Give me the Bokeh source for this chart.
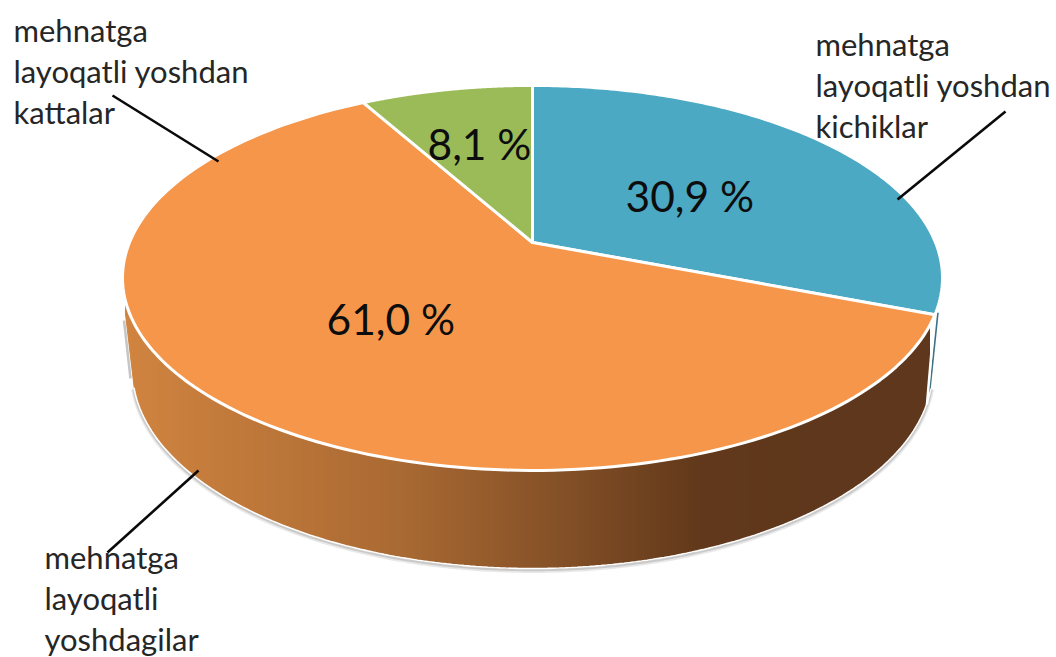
import numpy as np
from bokeh.plotting import figure
from bokeh.core.properties import value
from bokeh.embed import file_html
from bokeh.resources import INLINE

# ---- data ----
shares = [30.9, 61.0, 8.1]
share_labels = ["30,9 %", "61,0 %", "8,1 %"]
slice_colors = ["#4BA9C4", "#F5964A", "#9BBB59"]
names = [
    ["mehnatga", "layoqatli yoshdan", "kichiklar"],
    ["mehnatga", "layoqatli", "yoshdagilar"],
    ["mehnatga", "layoqatli yoshdan", "kattalar"],
]

# ---- geometry of the tilted disc (page pixels) ----
CX, CY = 532.0, 242.0      # apex of the slices
A, B, K = 403.0, 186.0, 0.184  # projective circle
RIM_CX, RIM_CY, RIM_RX, RIM_RY = 532.0, 370.0, 400.0, 198.0  # lower rim of the wall
TOP_CY, TOP_RX, TOP_RY = 277.5, 410.0, 192.5


def disc(t):
    u, v = np.sin(t), np.cos(t)
    w = 1 + K * v
    return CX + A * u / w, CY - B * v / w


def top(x):
    return TOP_CY + TOP_RY * np.sqrt(max(0, 1 - ((x - RIM_CX) / TOP_RX) ** 2))


def bot(x):
    if x < 132:
        return 373 - (132 - x) * 8.5
    return RIM_CY + RIM_RY * np.sqrt(max(0, 1 - ((x - RIM_CX) / RIM_RX) ** 2))


p = figure(width=1056, height=657, x_range=(0, 1056), y_range=(657, 0),
           output_backend="svg", toolbar_location=None, min_border=0,
           background_fill_color="white", border_fill_color="white")
p.axis.visible = False
p.grid.visible = False
p.outline_line_color = None

# ---- wall: vertical strips with a horizontal colour gradient ----
stops_x = [130, 400, 550, 700, 800, 934]
stops_rgb = np.array([(208, 132, 64), (170, 106, 51), (135, 82, 40),
                      (98, 57, 27), (95, 55, 28), (96, 56, 29)], float)
edges = np.r_[125.0, np.arange(128, 932, 3.0)]
xs, ys, cols = [], [], []
for x0, x1 in zip(edges[:-1], edges[1:]):
    xs.append([x0, x1, x1, x0])
    ys.append([top(x0), top(x1), bot(x1), bot(x0)])
    m = (x0 + x1) / 2
    c = [int(np.interp(m, stops_x, stops_rgb[:, i])) for i in range(3)]
    cols.append("#%02x%02x%02x" % tuple(c))

# soft shadow + white line round the wall's lower rim
tt = np.radians(np.linspace(95, 265, 200))
rx = RIM_CX + RIM_RX * np.sin(tt)
ry = RIM_CY - RIM_RY * np.cos(tt)
p.line(rx, ry + 1.5, line_color="#808080", line_alpha=0.18, line_width=6)
p.line(rx, ry + 1, line_color="#808080", line_alpha=0.3, line_width=3.5)
p.line([123.5, 130], [320, 378], line_color="#707070", line_alpha=0.4, line_width=2.5)
p.patches(xs, ys, fill_color=cols, line_color=cols, line_width=1)
p.line(rx, ry, line_color="white", line_width=1.6)

# thin sliver of the blue slice's wall at the far right
end_blue = np.radians(shares[0] / 100 * 360)
ex, ey = disc(end_blue)
p.line([ex + 3, ex - 5], [ey - 2, ey + 74], line_color="#3d7286", line_width=1.6)
p.line([ex - 0.5, ex - 8], [ey + 2, ey + 90], line_color="white", line_width=2.5)

# ---- top faces of the slices ----
start = 0.0
tx, ty = [], []
for s in shares:
    a0, a1 = start, start + s / 100 * 2 * np.pi
    t = np.linspace(a0, a1, 160)
    x, y = disc(t)
    tx.append(np.r_[CX, x])
    ty.append(np.r_[CY, y])
    start = a1
p.patches(tx, ty, fill_color=slice_colors, line_color="white", line_width=3,
          line_join="round")

# ---- leader lines ----
p.segment(x0=[1005, 198, 112], y0=[111, 470, 95], x1=[897, 107, 218], y1=[199, 552, 161],
          line_color="#0a0a0a", line_width=2.6)

# ---- percentage labels ----
FONT = value("Lato")
p.text(x=[625, 326, 427], y=[195, 318, 143], text=share_labels,
       text_font=FONT, text_font_size="42.5px", text_color="#0d0d0d",
       text_align="left", text_baseline="alphabetic")

# ---- category labels ----
anchors = [(815, 43), (44, 556), (13, 29)]
lx, ly, lt = [], [], []
for (ax, ay), lines in zip(anchors, names):
    for i, line in enumerate(lines):
        lx.append(ax)
        ly.append(ay + i * 41)
        lt.append(line)
p.text(x=lx, y=ly, text=lt, text_font=FONT, text_font_size="31px", text_color="#262626",
       text_align="left", text_baseline="alphabetic")

open("out.html", "w").write(file_html(p, INLINE))
